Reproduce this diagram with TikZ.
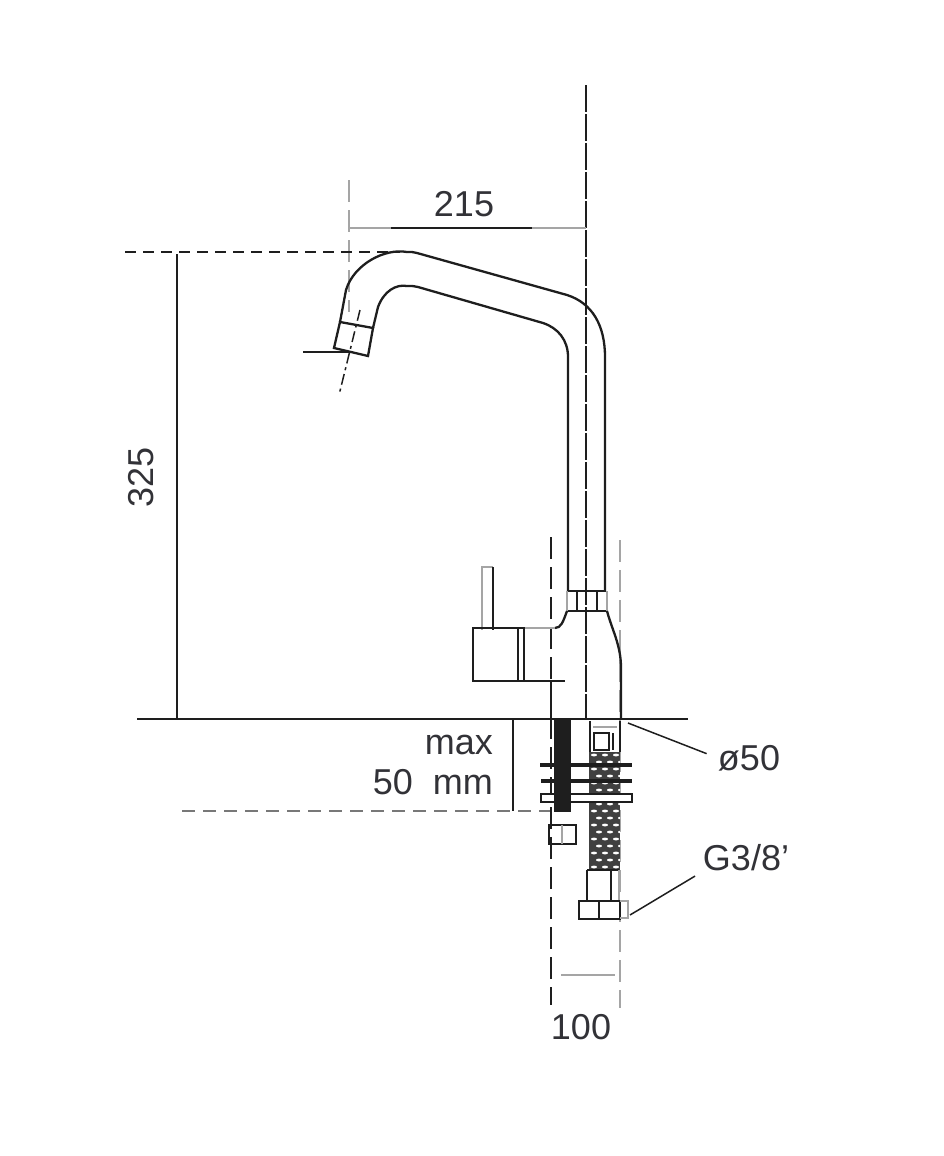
\documentclass[tikz,border=0pt]{standalone}
\usepackage{fontspec}
\setmainfont{Liberation Sans}
\definecolor{tapblack}{RGB}{30, 30, 30}
\definecolor{tapgray}{RGB}{165, 165, 165}
\definecolor{taptext}{RGB}{50, 50, 55}
\tikzset{
  outline/.style={draw=tapblack, line width=2.3pt},
  thinline/.style={draw=tapblack, line width=1.5pt},
  dimline/.style={draw=tapblack, line width=1.9pt},
  grayline/.style={draw=tapgray, line width=2.6pt},
  axisdash/.style={draw=tapblack, line width=1.9pt, dash pattern=on 27pt off 2pt},
  cutdash/.style={draw=tapblack, line width=1.6pt, dash pattern=on 11pt off 7pt},
  sidedash/.style={line width=2.4pt, dash pattern=on 22pt off 8pt},
  dimlabel/.style={text=taptext, font=\fontsize{36}{40}\selectfont, inner sep=0pt}
}
\begin{document}
\begin{tikzpicture}[x=1pt, y=-1pt]
  \useasboundingbox (0,0) rectangle (944,1156);

  % Axis and dimension lines
  \draw[axisdash] (586,85) -- (586,720);
  \draw[sidedash, draw=tapgray] (349,180) -- (349,312);
  \draw[cutdash] (125,252) -- (400,252);
  \draw[grayline] (349,228) -- (391,228);
  \draw[dimline] (391,228) -- (532,228);
  \draw[grayline] (532,228) -- (586,228);
  \draw[dimline] (177,254) -- (177,718);
  \draw[line width=2.8pt, draw=tapblack] (137,719) -- (688,719);
  \draw[dimline] (513,720) -- (513,811);
  \draw[cutdash, draw=tapblack!60, dash pattern=on 13pt off 8pt] (182,811) -- (556,811);
  \draw[sidedash, draw=tapblack] (551,537) -- (551,1005);
  \draw[sidedash, draw=tapgray] (620,540) -- (620,1008);
  \draw[grayline] (561,975) -- (615,975);

  % Spout
  \draw[outline] (340,322) -- (346,290)
    .. controls (354,264) and (385,248) .. (407,252)
    .. controls (412,252) and (414,252) .. (417,253)
    -- (567,295) .. controls (592,303) and (605,325) .. (605,357) -- (605,591);
  \draw[outline] (373,328) -- (378,307)
    .. controls (384,291) and (396,284) .. (407,286)
    .. controls (412,286) and (415,286) .. (418,287)
    -- (543,323) .. controls (558,328) and (568,340) .. (568,357) -- (568,591);

  % Nozzle
  \draw[outline] (340,322) -- (373,328) -- (368,356) -- (334,348) -- cycle;
  \draw[thinline] (303,352) -- (352,352);
  \draw[thinline, dash pattern=on 11pt off 4pt on 3pt off 4pt] (360,310) -- (339,395);

  % Collar and body
  \draw[outline] (567,591) -- (606,591);
  \draw[outline] (567,611) -- (607,611);
  \draw[grayline] (567,591) -- (567,611) (607,591) -- (607,611);
  \draw[thinline] (577,591) -- (577,611) (597,591) -- (597,611);
  \draw[outline] (567,611) .. controls (563,622) and (561,628) .. (555,628);
  \draw[grayline] (555,628) -- (524,628);
  \draw[outline] (607,611) .. controls (612,630) and (621,645) .. (621,668) -- (621,719);

  % Handle
  \draw[grayline] (482,630) -- (482,567) -- (493,567);
  \draw[outline] (493,567) -- (493,630);
  \draw[outline] (473,628) rectangle (524,681);
  \draw[outline] (518,628) -- (518,681);
  \draw[outline] (524,681) -- (565,681);
  \draw[outline] (551,681) -- (551,719);

  % Hose
  \begin{scope}
    \clip (589,752) rectangle (620,870);
    \fill[tapblack!85] (589,752) rectangle (620,870);
    \foreach \row in {0,...,16} {
      \foreach \col in {0,1,2} {
        \pgfmathsetmacro{\hosex}{594+\col*11+mod(\row,2)*5}
        \pgfmathsetmacro{\hosey}{755+\row*7}
        \fill[white] (\hosex,\hosey) ellipse (3pt and 1.4pt);
      }
    }
  \end{scope}
  \draw[outline] (590,721) -- (590,752);
  \draw[outline] (620,721) -- (620,752);
  \draw[grayline] (593,727) -- (617,727);
  \draw[outline] (594,733) rectangle (609,750);
  \draw[outline] (613,733) -- (613,750);

  % Clamp
  \fill[tapblack] (554,720) rectangle (571,812);
  \draw[line width=4.5pt, draw=tapblack] (540,765) -- (632,765);
  \draw[line width=4.5pt, draw=tapblack] (541,781) -- (632,781);
  \draw[outline, fill=white] (541,794) rectangle (632,802);
  \fill[tapblack] (554,794) rectangle (571,802);
  \draw[outline] (549,825) rectangle (576,844);
  \draw[grayline] (562,825) -- (562,844);

  % Lower fitting
  \draw[outline] (587,870) -- (587,900);
  \draw[outline] (611,870) -- (611,900);
  \draw[outline] (587,870) -- (619,870);
  \draw[grayline] (619,870) -- (619,900);
  \draw[outline] (579,901) rectangle (620,919);
  \draw[outline] (599,901) -- (599,919);
  \draw[grayline] (620,901) -- (628,901) -- (628,918) -- (620,918);

  % Labels
  \node[dimlabel] (dimspout) at (464,204) {215};
  \node[dimlabel, rotate=90] (dimheight) at (141,477) {325};
  \node[dimlabel, anchor=east] (maxtop) at (493,745) {max};
  \node[dimlabel, anchor=east] (maxbottom) at (493,782) {50\ \ mm};
  \node[dimlabel] (dimhole) at (749,758) {ø50};
  \node[dimlabel] (dimthread) at (746,858) {G3/8’};
  \node[dimlabel] (dimwidth) at (581,1027) {100};

  % Leaders
  \coordinate (holepoint) at (628,723);
  \coordinate (threadpoint) at (630,915);
  \draw[thinline, shorten >=12pt] (holepoint) -- (dimhole.west);
  \draw[thinline, shorten >=9pt] (threadpoint) -- (dimthread.south west);
\end{tikzpicture}
\end{document}
